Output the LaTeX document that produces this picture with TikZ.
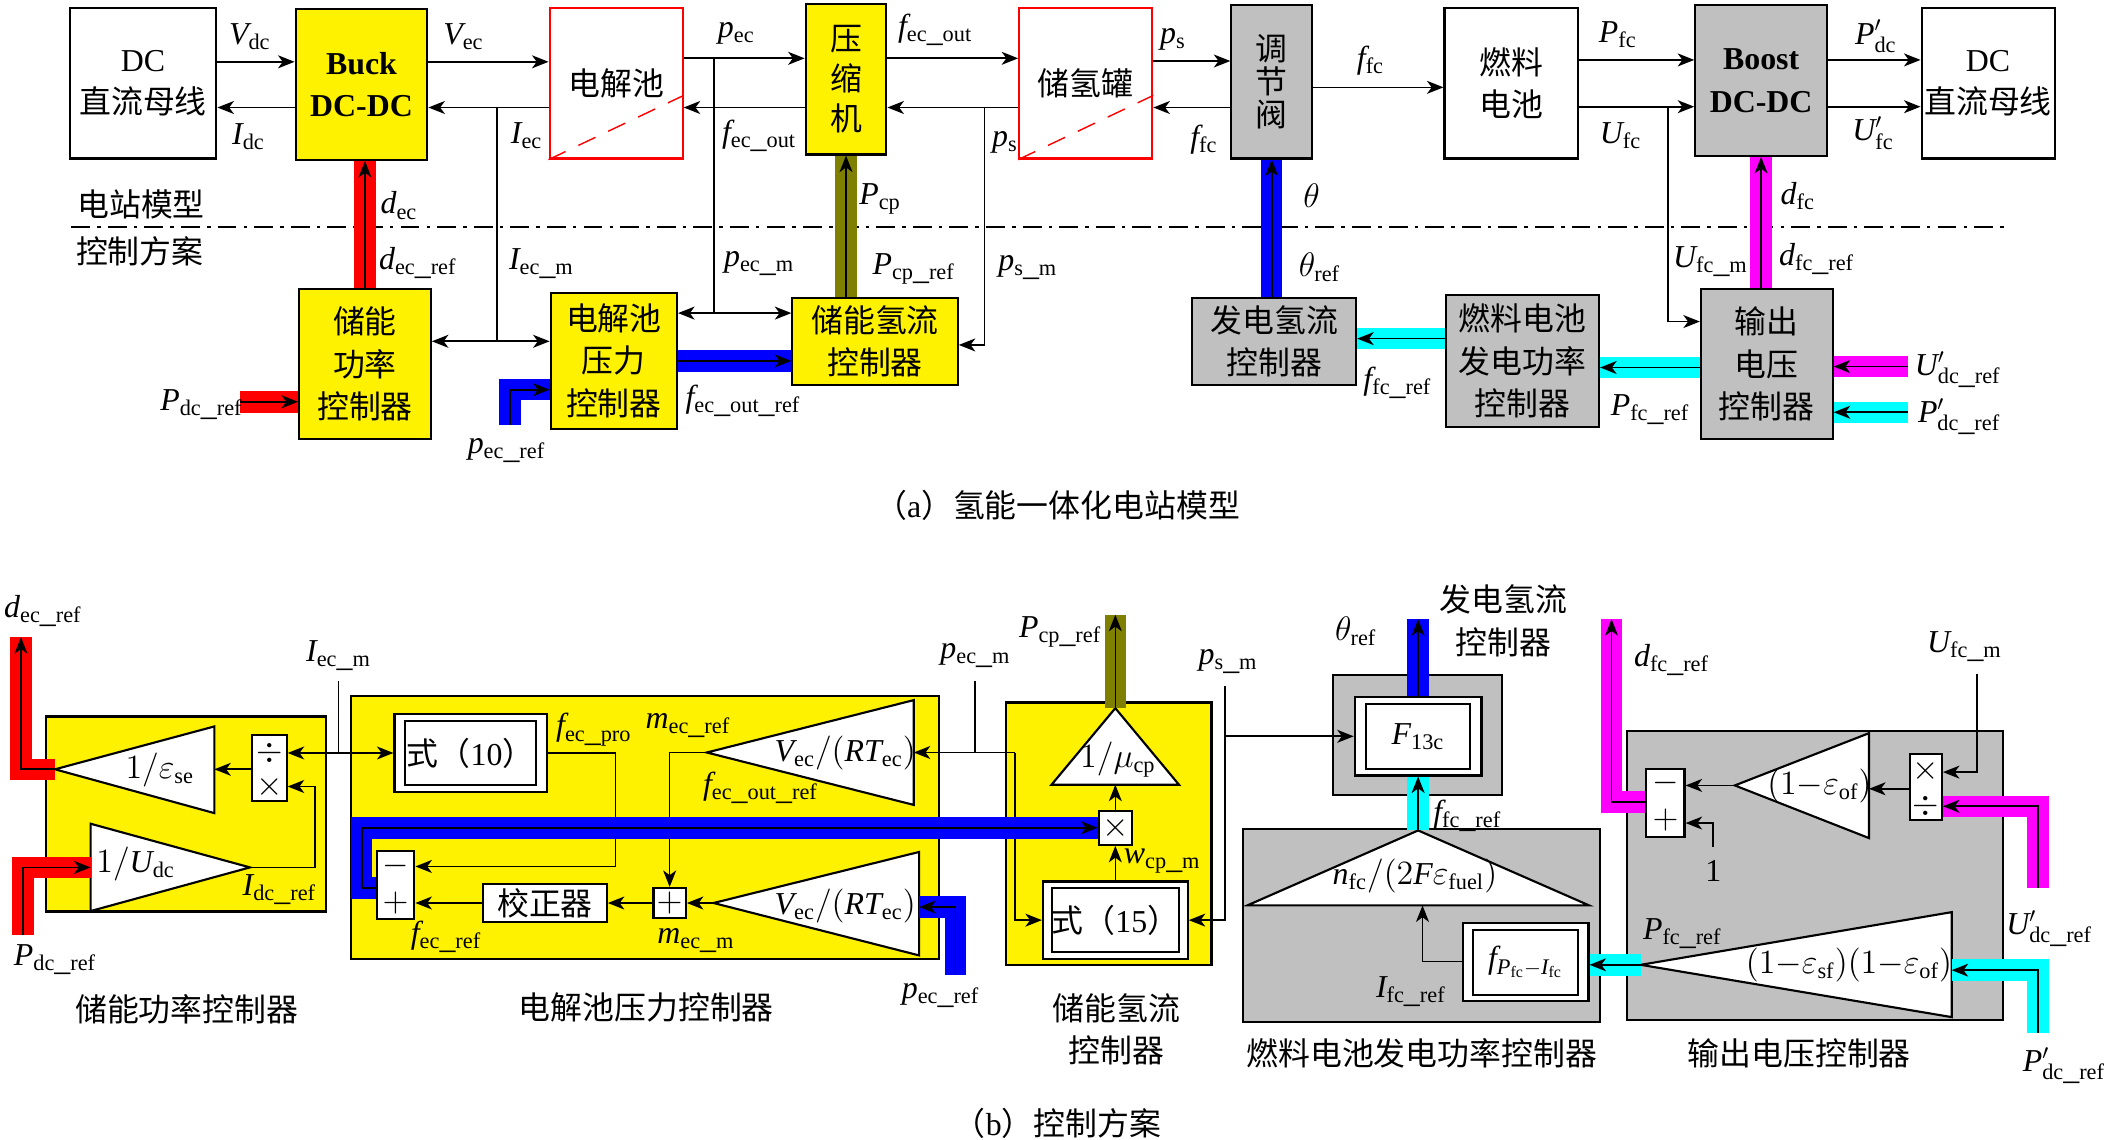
\documentclass[tikz,border=0pt]{standalone}
\usepackage{fontspec}
\setmainfont{Liberation Serif}
\newfontfamily\zh{Noto Sans CJK SC}
\usetikzlibrary{arrows.meta}
\definecolor{grayc}{RGB}{192,192,192}
\definecolor{olivec}{RGB}{128,128,0}
\definecolor{cyanc}{RGB}{0,255,255}
\definecolor{magc}{RGB}{255,0,255}
\definecolor{bluec}{RGB}{0,0,255}
\definecolor{redc}{RGB}{255,0,0}
\newcommand{\sig}[2]{$\mathit{#1}_{\mathrm{#2}}$}
\newcommand{\sigp}[2]{$\mathit{#1}'_{\mathrm{#2}}$}
\tikzset{
  blk/.style={draw, line width=0.9pt, inner sep=0pt, align=center, font=\zh},
  sz/.style 2 args={minimum width=#1*0.02cm, minimum height=#2*0.02cm},
  ybox/.style={blk, fill=yellow},
  gbox/.style={blk, fill=grayc},
  wbox/.style={blk, fill=white},
  rbox/.style={blk, draw=redc, fill=white},
  lnk/.style={line width=0.7pt},
  arr/.style={lnk, ->, >={Stealth[length=7pt,width=5.5pt,inset=2pt]}},
  darr/.style={lnk, <->, >={Stealth[length=7pt,width=5.5pt,inset=2pt]}},
  band/.style={line width=0.32cm, draw=#1},
  lbl/.style={inner sep=0pt},
  ttl/.style={inner sep=0pt, font=\zh, align=center},
  tri/.style={draw, line width=0.9pt, fill=white},
  divline/.style={line width=0.8pt, dash pattern=on 8pt off 3pt on 1.5pt off 3pt},
  cut/.style={draw=redc, line width=0.6pt, dash pattern=on 8pt off 6pt}
}
\begin{document}
\fontsize{13.5}{18}\selectfont
\begin{tikzpicture}[x=0.02cm, y=-0.02cm]
\useasboundingbox (0,0) rectangle (1568,848);

% ---------- (a) plant model ----------
\node (dcl) [wbox, sz={109}{112}] at (106.5,62) {{\rmfamily DC}\\直流母线};
\node (buck) [ybox, sz={98}{112}, font=\rmfamily\bfseries] at (269,63) {Buck\\DC-DC};
\node (ecell) [rbox, sz={99}{112}] at (458.5,62) {电解池};
\node (comp) [ybox, sz={60}{112}] at (629.6,59) {压\\[-1pt]缩\\[-1pt]机};
\node (tank) [rbox, sz={99}{112}] at (808,62) {储氢罐};
\node (valve) [gbox, sz={60}{114}] at (946.4,61) {调\\[-4pt]节\\[-4pt]阀};
\node (fc) [wbox, sz={99}{112}] at (1124.5,62) {燃料\\电池};
\node (boost) [gbox, sz={98}{112}, font=\rmfamily\bfseries] at (1310.6,60) {Boost\\DC-DC};
\node (dcr) [wbox, sz={99}{112}] at (1479.5,62) {{\rmfamily DC}\\直流母线};

\node (ctrlP) [ybox, sz={98}{112}] at (271.6,271) {储能\\功率\\控制器};
\node (ctrlEC) [ybox, sz={94}{101}] at (456.8,268.5) {电解池\\压力\\控制器};
\node (ctrlH) [ybox, sz={123}{65}] at (651.2,254) {储能氢流\\控制器};
\node (genH) [gbox, sz={122}{65}] at (948.2,254) {发电氢流\\控制器};
\node (fcP) [gbox, sz={114}{98}] at (1133,268.8) {燃料电池\\发电功率\\控制器};
\node (outV) [gbox, sz={98}{112}] at (1314.8,271) {输出\\电压\\控制器};

\draw[cut] (ecell.south west) -- (ecell.east |- 0,71);
\draw[cut] (tank.south west) -- (tank.east |- 0,71);

\draw[divline] (53,168.6) -- (1494.6,168.6);

\coordinate (jIec) at (369.7,80);
\coordinate (jPec) at (531.2,43.4);
\coordinate (jPs) at (732.7,80);
\coordinate (jUfc) at (1241.3,79.4);
\coordinate (pdcIn) at (178.7,299);
\coordinate (pecIn) at (379.5,316);
\coordinate (udcIn) at (1419.8,272.8);
\coordinate (pdcIn2) at (1419.8,306.8);

\draw[arr] (dcl.east |- 0,46) -- (buck.west |- 0,46);
\draw[arr] (buck.west |- 0,80) -- (dcl.east |- 0,80);
\draw[arr] (buck.east |- 0,46) -- (ecell.west |- 0,46);
\draw[arr] (ecell.west |- 0,80) -- (buck.east |- 0,80);
\draw[lnk] (jIec) -- (jIec |- 0,254);
\draw[darr] (ctrlP.east |- 0,254) -- (ctrlEC.west |- 0,254);
\draw[arr] (ecell.east |- jPec) -- (comp.west |- jPec);
\draw[arr] (comp.west |- 0,80) -- (ecell.east |- 0,80);
\draw[lnk] (jPec) -- (jPec |- 0,233);
\draw[darr] (ctrlEC.east |- 0,233) -- (ctrlH.west |- 0,233);
\draw[arr] (comp.east |- jPec) -- (tank.west |- jPec);
\draw[arr] (tank.west |- jPs) -- (comp.east |- jPs);
\draw[arr] (jPs) |- (ctrlH.east |- 0,256.7);
\draw[arr] (tank.east |- 0,45.4) -- (valve.west |- 0,45.4);
\draw[arr] (valve.west |- 0,80) -- (tank.east |- 0,80);
\draw[arr] (valve.east |- 0,65) -- (fc.west |- 0,65);
\draw[arr] (fc.east |- 0,44.6) -- (boost.west |- 0,44.6);
\draw[arr] (fc.east |- jUfc) -- (boost.west |- jUfc);
\draw[arr] (jUfc) |- (outV.west |- 0,239.3);
\draw[arr] (boost.east |- 0,44.6) -- (dcr.west |- 0,44.6);
\draw[arr] (boost.east |- jUfc) -- (dcr.west |- jUfc);

% signal bands
\draw[band=redc] (ctrlP.north) -- (ctrlP.north |- buck.south);
\draw[band=olivec] (comp.south |- ctrlH.north) -- (comp.south);
\draw[band=bluec] (valve.south |- genH.north) -- (valve.south);
\draw[band=magc] (boost.south |- outV.north) -- (boost.south);
\draw[band=redc] (pdcIn) -- (pdcIn -| ctrlP.west);
\draw[band=bluec] (pecIn) |- (ctrlEC.west |- 0,290);
\draw[band=bluec] (ctrlEC.east |- 0,268.6) -- (ctrlH.west |- 0,268.6);
\draw[band=cyanc] (fcP.west |- 0,252) -- (genH.east |- 0,252);
\draw[band=cyanc] (outV.west |- 0,273.5) -- (fcP.east |- 0,273.5);
\draw[band=magc] (udcIn) -- (udcIn -| outV.east);
\draw[band=cyanc] (pdcIn2) -- (pdcIn2 -| outV.east);

\draw[arr] (ctrlP.north) -- (ctrlP.north |- buck.south);
\draw[arr] (comp.south |- ctrlH.north) -- (comp.south);
\draw[arr] (valve.south |- genH.north) -- (valve.south);
\draw[arr] (boost.south |- outV.north) -- (boost.south);
\draw[arr] (pdcIn) -- (pdcIn -| ctrlP.west);
\draw[arr] (pecIn) |- (ctrlEC.west |- 0,290);
\draw[arr] (ctrlEC.east |- 0,268.6) -- (ctrlH.west |- 0,268.6);
\draw[arr] (fcP.west |- 0,252) -- (genH.east |- 0,252);
\draw[arr] (outV.west |- 0,273.5) -- (fcP.east |- 0,273.5);
\draw[arr] (udcIn) -- (udcIn -| outV.east);
\draw[arr] (pdcIn2) -- (pdcIn2 -| outV.east);

\node[lbl] (lVdc) at (186,27) {\sig{V}{dc}};
\node[lbl] (lIdc) at (185,102) {\sig{I}{dc}};
\node[lbl] (lVec) at (345,27) {\sig{V}{ec}};
\node[lbl] (lIec) at (392,101) {\sig{I}{ec}};
\node[lbl] (lpec) at (548,25) {\sig{p}{ec}};
\node[lbl] (lfeoA) at (565,101) {\sig{f}{ec\_out}};
\node[lbl] (lfeoB) at (696,22) {\sig{f}{ec\_out}};
\node[lbl] (lpsA) at (873,29) {\sig{p}{s}};
\node[lbl] (lpsB) at (748,106) {\sig{p}{s}};
\node[lbl] (lffcA) at (896,104) {\sig{f}{fc}};
\node[lbl] (lffcB) at (1020,45) {\sig{f}{fc}};
\node[lbl] (lPfc) at (1204,26) {\sig{P}{fc}};
\node[lbl] (lUfc) at (1206,101) {\sig{U}{fc}};
\node[lbl] (lPdcp) at (1396,27) {\sigp{P}{dc}};
\node[lbl] (lUfcp) at (1394,99) {\sigp{U}{fc}};
\node[lbl] (ldec) at (297,153) {\sig{d}{ec}};
\node[lbl] (ldecr) at (311,196) {\sig{d}{ec\_ref}};
\node[lbl] (lIecm) at (403,196) {\sig{I}{ec\_m}};
\node[lbl] (lpecm) at (565,196) {\sig{p}{ec\_m}};
\node[lbl] (lPcp) at (655,148) {\sig{P}{cp}};
\node[lbl] (lPcpr) at (680,200) {\sig{P}{cp\_ref}};
\node[lbl] (lpsm) at (765,199) {\sig{p}{s\_m}};
\node[lbl] (lth) at (976,146) {$\theta$};
\node[lbl] (lthr) at (982,199) {$\theta_{\mathrm{ref}}$};
\node[lbl] (ldfc) at (1338,146) {\sig{d}{fc}};
\node[lbl] (lUfcm) at (1273,195) {\sig{U}{fc\_m}};
\node[lbl] (ldfcr) at (1352,193) {\sig{d}{fc\_ref}};
\node[lbl] (lPdcr) at (150,301) {\sig{P}{dc\_ref}};
\node[lbl] (lpecr) at (377,335) {\sig{p}{ec\_ref}};
\node[lbl] (lfeor) at (553,298) {\sig{f}{ec\_out\_ref}};
\node[lbl] (lffcr) at (1040,285) {\sig{f}{fc\_ref}};
\node[lbl] (lPfcr) at (1228,305) {\sig{P}{fc\_ref}};
\node[lbl] (lUdcr) at (1457,275) {\sigp{U}{dc\_ref}};
\node[lbl] (lPdcrp) at (1458,310) {\sigp{P}{dc\_ref}};
\node[ttl] (tModel) at (105,152) {电站模型};
\node[ttl] (tCtrl) at (104,187) {控制方案};
\node[ttl] (capA) at (787,376) {（{\rmfamily a}）氢能一体化电站模型};

% ---------- (b) control scheme ----------
\node (gP) [ybox, sz={208.3}{145.1}] at (138.35,605.75) {};
\node (gEC) [ybox, sz={437.7}{195.6}] at (479.85,615.7) {};
\node (gH) [ybox, sz={153.1}{195.6}] at (825.05,620.6) {};
\node (gG) [gbox, sz={126.1}{89.3}] at (1054.95,546.85) {};
\node (gF) [gbox, sz={265.5}{143.6}] at (1057.95,688.8) {};
\node (gO) [gbox, sz={279.8}{214.6}] at (1350.4,651.6) {};

% triangles
\coordinate (tseT) at (40.9,572.5);
\coordinate (tseB) at (159.5,572.5);
\coordinate (tudcT) at (186,645.5);
\coordinate (tudcB) at (67.4,645.5);
\coordinate (tAT) at (526,560);
\coordinate (tAB) at (680,560);
\coordinate (tBT) at (531,672);
\coordinate (tBB) at (684,675);
\coordinate (tmuA) at (830,527);
\coordinate (tmuB) at (830,584);
\coordinate (tfcA) at (1055.35,618);
\coordinate (tfcB) at (1058.6,673.8);
\coordinate (tofT) at (1291,584.5);
\coordinate (tofB) at (1390.9,587);
\coordinate (tsfT) at (1221,718);
\coordinate (tsfB) at (1452.4,722);

\draw[tri] (tseT) -- (159.5,540.6) -- (159.5,605.1) -- cycle;
\draw[tri] (tudcT) -- (67.4,613) -- (67.4,678) -- cycle;
\draw[tri] (tAT) -- (680,521) -- (680,599) -- cycle;
\draw[tri] (tBT) -- (684,634) -- (684,711) -- cycle;
\draw[tri] (tmuA) -- (877.4,584) -- (782.5,584) -- cycle;
\draw[tri] (tfcA) -- (1182.6,673.8) -- (928.2,673.8) -- cycle;
\draw[tri] (tofT) -- (1390.9,545.6) -- (1390.9,623.7) -- cycle;
\draw[tri] (tsfT) -- (1452.4,678.8) -- (1452.4,756.9) -- cycle;

% blocks
\node (dm) [wbox, sz={25.6}{49.6}] at (200.5,571.6) {};
\node (eq10) [wbox, sz={113.3}{58.3}] at (350.25,560.35) {};
\node (eq10i) [wbox, sz={97.7}{47.8}] at (eq10) {式（{\rmfamily 10}）};
\node (sumA) [wbox, sz={28}{51}] at (294.35,658.5) {};
\node (corr) [wbox, sz={92}{28.5}] at (405.55,672) {校正器};
\node (plusA) [wbox, sz={24}{22.3}] at (498.35,672) {$+$};
\node (mul) [wbox, sz={24.7}{25.3}] at (830,616) {$\times$};
\node (eq15) [wbox, sz={107.7}{57.5}] at (830,684.75) {};
\node (eq15i) [wbox, sz={91.7}{47.8}] at (eq15) {式（{\rmfamily 15}）};
\node (f13) [wbox, sz={94.3}{58.3}] at (1055.35,547.95) {};
\node (f13i) [wbox, sz={77.4}{48}] at (f13) {\sig{F}{13c}};
\node (fP) [wbox, sz={93.4}{58.2}] at (1135.4,716.1) {};
\node (fPi) [wbox, sz={78.3}{48.3}] at (fP) {$\mathit{f}_{\mathit{P}_{\mathrm{fc}}-\mathit{I}_{\mathrm{fc}}}$};
\node (sumB) [wbox, sz={28.4}{51.1}] at (1239.4,597.65) {};
\node (md) [wbox, sz={23.7}{49}] at (1433.25,585.5) {};

\node[lbl] (dmA) at (200.5,560.5) {$\div$};
\node[lbl] (dmB) at (200.5,585.3) {$\times$};
\node[lbl] (sumAm) at (294.35,644.8) {$-$};
\node[lbl] (sumAp) at (294.35,672) {$+$};
\node[lbl] (sumBm) at (1239.4,583) {$-$};
\node[lbl] (sumBp) at (1239.4,610) {$+$};
\node[lbl] (mdA) at (1433.25,573.4) {$\times$};
\node[lbl] (mdB) at (1433.25,600) {$\div$};

% end points
\coordinate (decOut) at (15.6,474.2);
\coordinate (pdcIn3) at (17,695.6);
\coordinate (iecmTop) at (251.8,507);
\coordinate (bCorner) at (269.2,616);
\coordinate (pecmTop) at (725.4,507);
\coordinate (pecmJ) at (755.1,560);
\coordinate (pecIn2) at (711,725.4);
\coordinate (pcpOut) at (830,457.5);
\coordinate (psmTop) at (911.4,510.4);
\coordinate (thOut) at (1055.35,460.8);
\coordinate (dfcOut) at (1199.3,460.8);
\coordinate (one) at (1275,630);
\coordinate (ufcmTop) at (1471,501.7);
\coordinate (udcIn2) at (1516.6,660.9);
\coordinate (pdcIn4) at (1516.6,768.8);

% thin links
\draw[lnk] (iecmTop) -- (iecmTop |- eq10.west);
\draw[darr] (dm.east |- eq10.west) -- (eq10.west);
\draw[arr] (dm.west |- tseT) -- (tseB);
\draw[arr] (tudcT) -- (234.2,645.5) |- (dm.east |- dmB);
\draw[arr] (eq10.east) -- (458,560.35) |- (sumA.east |- sumAm);
\draw[arr] (corr.west) -- (corr.west -| sumA.east);
\draw[arr] (plusA.west) -- (corr.east);
\draw[arr] (tAT) -| (plusA.north);
\draw[arr] (tBT) -- (plusA.east);
\draw[lnk] (pecmTop) -- (pecmTop |- pecmJ);
\draw[arr] (pecmJ) -- (tAB);
\draw[arr] (pecmJ) |- (eq15.west);
\draw[arr] (mul.north) -- (tmuB);
\draw[arr] (eq15.north) -- (mul.south);
\draw[arr] (psmTop) |- (eq15.east);
\draw[arr] (psmTop |- f13.west) -- (f13.west);
\draw[arr] (fP.west |- 0,715.5) -| (tfcB);
\draw[arr] (tofT) -- (tofT -| sumB.east);
\draw[arr] (one) |- (sumB.east |- 0,612.5);
\draw[arr] (md.west |- tofB) -- (tofB);
\draw[arr] (ufcmTop) |- (md.east |- 0,574.6);

% bands
\draw[band=redc] (tseT) -| (decOut);
\draw[band=redc] (pdcIn3) |- (tudcB);
\draw[band=bluec] (sumA.west |- 0,661) -| (bCorner) -- (bCorner -| mul.west);
\draw[band=bluec] (pecIn2) |- (tBB);
\draw[band=olivec] (tmuA) -- (pcpOut);
\draw[band=bluec] (f13.north) -- (thOut);
\draw[band=cyanc] (tfcA) -- (f13.south);
\draw[band=cyanc] (tsfT) -- (tsfT -| fP.east);
\draw[band=magc] (sumB.west |- 0,597) -| (dfcOut);
\draw[band=magc] (udcIn2) |- (md.east |- mdB);
\draw[band=cyanc] (pdcIn4) |- (tsfB);

\draw[arr] (tseT) -| (decOut);
\draw[arr] (pdcIn3) |- (tudcB);
\draw[arr] (sumA.west |- 0,661) -| (bCorner) -- (bCorner -| mul.west);
\draw[arr] (pecIn2) |- (tBB);
\draw[arr] (tmuA) -- (pcpOut);
\draw[arr] (f13.north) -- (thOut);
\draw[arr] (tfcA) -- (f13.south);
\draw[arr] (tsfT) -- (tsfT -| fP.east);
\draw[arr] (sumB.west |- 0,597) -| (dfcOut);
\draw[arr] (udcIn2) |- (md.east |- mdB);
\draw[arr] (pdcIn4) |- (tsfB);

% texts
\node[lbl] (tseL) at (119,573) {$1/\varepsilon_{\mathrm{se}}$};
\node[lbl] (tudcL) at (101,643) {$1/\mathit{U}_{\mathrm{dc}}$};
\node[lbl] (tAL) at (629,560) {$\mathit{V}_{\mathrm{ec}}/(\mathit{RT}_{\mathrm{ec}})$};
\node[lbl] (tBL) at (629,674) {$\mathit{V}_{\mathrm{ec}}/(\mathit{RT}_{\mathrm{ec}})$};
\node[lbl] (tmuL) at (832,565) {$1/\mu_{\mathrm{cp}}$};
\node[lbl] (tfcL) at (1053,652) {$\mathit{n}_{\mathrm{fc}}/(2\mathit{F}\varepsilon_{\mathrm{fuel}})$};
\node[lbl] (tofL) at (1354,585) {$(1{-}\varepsilon_{\mathrm{of}})$};
\node[lbl] (tsfL) at (1376,718) {$(1{-}\varepsilon_{\mathrm{sf}})(1{-}\varepsilon_{\mathrm{of}})$};

\node[lbl] (bdecr) at (32,455) {\sig{d}{ec\_ref}};
\node[lbl] (bIecm) at (252,488) {\sig{I}{ec\_m}};
\node[lbl] (bPdcr) at (41,714) {\sig{P}{dc\_ref}};
\node[lbl] (bIdcr) at (208,662) {\sig{I}{dc\_ref}};
\node[lbl] (bfecp) at (442,543) {\sig{f}{ec\_pro}};
\node[lbl] (bmecr) at (512,540) {\sig{m}{ec\_ref}};
\node[lbl] (bfeor) at (566,586) {\sig{f}{ec\_out\_ref}};
\node[lbl] (bmecm) at (518,700) {\sig{m}{ec\_m}};
\node[lbl] (bfecr) at (332,697) {\sig{f}{ec\_ref}};
\node[lbl] (bpecm) at (726,488) {\sig{p}{ec\_m}};
\node[lbl] (bpecr) at (700,741) {\sig{p}{ec\_ref}};
\node[lbl] (bPcpr) at (789,470) {\sig{P}{cp\_ref}};
\node[lbl] (bwcpm) at (865,641) {\sig{w}{cp\_m}};
\node[lbl] (bpsm) at (914,492) {\sig{p}{s\_m}};
\node[lbl] (bthr) at (1009,470) {$\theta_{\mathrm{ref}}$};
\node[lbl] (bffcr) at (1092,607) {\sig{f}{fc\_ref}};
\node[lbl] (bIfcr) at (1050,738) {\sig{I}{fc\_ref}};
\node[lbl] (bdfcr) at (1244,491) {\sig{d}{fc\_ref}};
\node[lbl] (bUfcm) at (1462,481) {\sig{U}{fc\_m}};
\node[lbl] (bone) at (1275,648.5) {1};
\node[lbl] (bPfcr) at (1252,695) {\sig{P}{fc\_ref}};
\node[lbl] (bUdcr) at (1525,691) {\sigp{U}{dc\_ref}};
\node[lbl] (bPdcr2) at (1536,793) {\sigp{P}{dc\_ref}};

\node[ttl] (cP) at (139,751) {储能功率控制器};
\node[ttl] (cEC) at (481,750) {电解池压力控制器};
\node[ttl] (cH) at (831,766) {储能氢流\\控制器};
\node[ttl] (cG) at (1119,462) {发电氢流\\控制器};
\node[ttl] (cF) at (1058,784) {燃料电池发电功率控制器};
\node[ttl] (cO) at (1339,784) {输出电压控制器};
\node[ttl] (capB) at (787,836) {（{\rmfamily b}）控制方案};
\end{tikzpicture}
\end{document}
